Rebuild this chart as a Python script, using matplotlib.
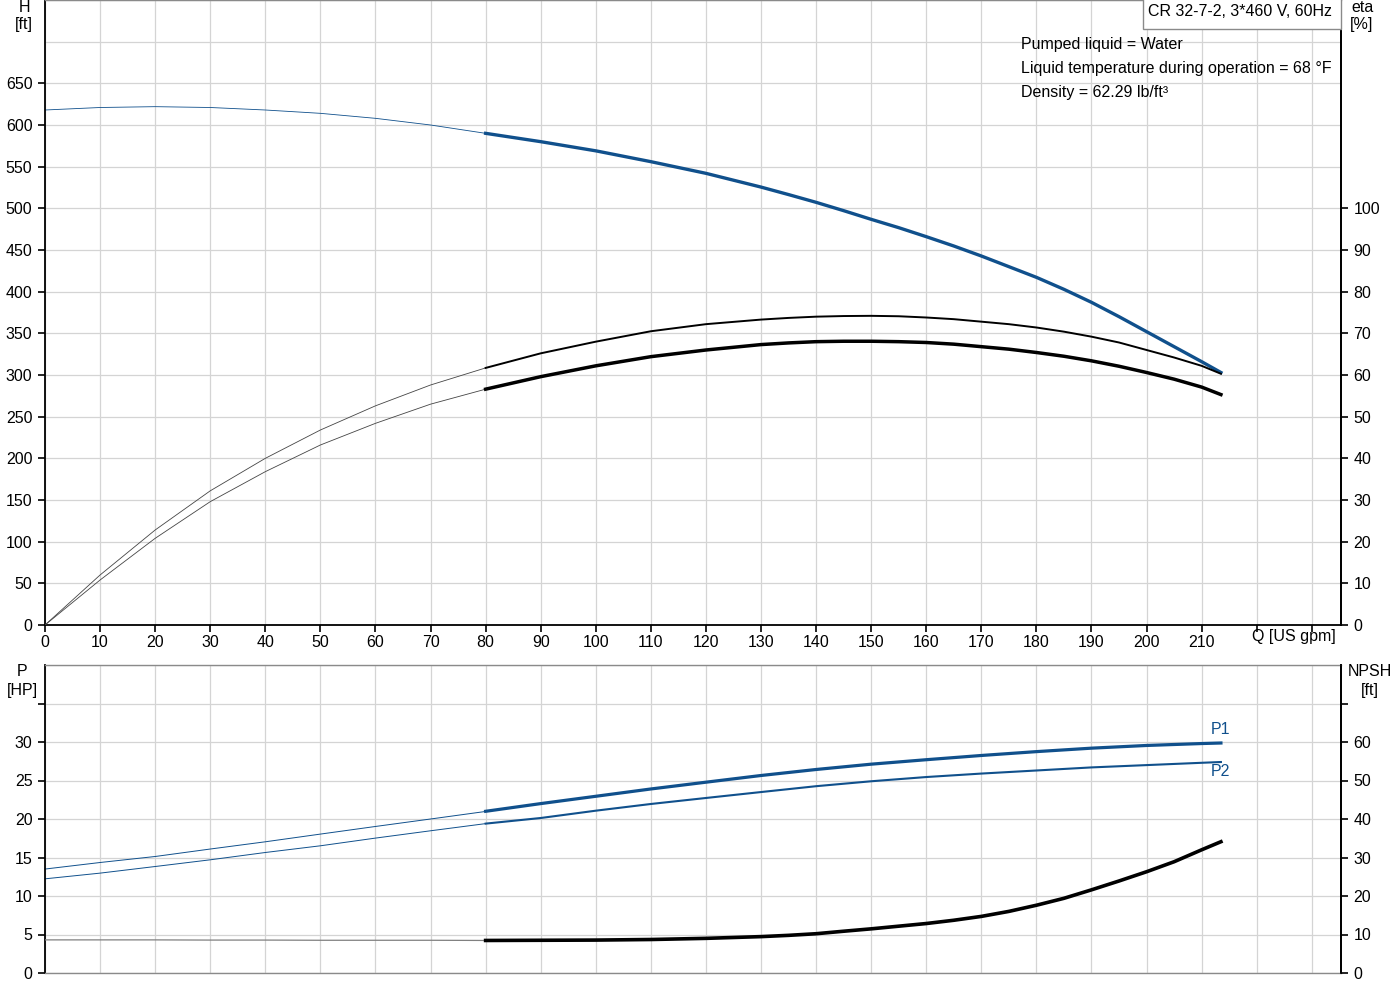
import matplotlib

matplotlib.use("Agg")
import matplotlib.pyplot as plt
from matplotlib.patches import Rectangle

plt.rcParams["font.family"] = ["Liberation Sans", "DejaVu Sans"]
plt.rcParams["font.size"] = 11.5

# flow points: thin part (outside duty range) and thick part (duty range)
Q_LO = [0, 10, 20, 30, 40, 50, 60, 70, 80]
Q_HI = [80, 90, 100, 110, 120, 130, 135, 140, 145, 150, 155, 160, 165, 170, 175,
        180, 185, 190, 195, 200, 205, 210, 213.5]
Q_PW = [80, 90, 100, 110, 120, 130, 140, 150, 160, 170, 180, 190, 200, 210, 213.5]

# head [ft]
H_LO = [618, 621, 622, 621, 618, 614, 608, 600, 590]
H_HI = [590, 580, 569, 556, 542, 525.5, 516.5, 507.2, 497.2, 486.8, 476.8, 466, 454.8,
        442.8, 430, 417.2, 402.8, 387.2, 370, 352, 334, 316, 303]

# efficiencies [%]
ETA1_LO = [0, 12.0, 22.8, 32.2, 40.0, 46.8, 52.6, 57.6, 61.7]
ETA1_HI = [61.7, 65.2, 68.0, 70.5, 72.2, 73.3, 73.7, 74.0, 74.15, 74.2, 74.1, 73.8, 73.4,
           72.8, 72.2, 71.4, 70.4, 69.2, 67.8, 66.0, 64.2, 62.2, 60.3]
ETA2_LO = [0, 10.8, 20.8, 29.6, 36.8, 43.2, 48.4, 53.0, 56.6]
ETA2_HI = [56.6, 59.6, 62.2, 64.4, 66.0, 67.3, 67.7, 68.0, 68.1, 68.1, 68.0, 67.8, 67.4,
           66.8, 66.2, 65.4, 64.5, 63.4, 62.1, 60.6, 59.0, 57.1, 55.3]

# power [HP]
P1_LO = [13.5, 14.35, 15.13, 16.1, 17.04, 18.04, 19.03, 20.0, 20.98]
P1_HI = [21.0, 22.0, 22.95, 23.9, 24.78, 25.65, 26.43, 27.12, 27.7, 28.25, 28.75, 29.2,
         29.55, 29.8, 29.87]
P2_LO = [12.23, 12.97, 13.83, 14.7, 15.65, 16.52, 17.52, 18.47, 19.4]
P2_HI = [19.4, 20.13, 21.08, 21.95, 22.73, 23.5, 24.26, 24.9, 25.45, 25.9, 26.3, 26.7,
         27.0, 27.3, 27.4]

# NPSH [ft]
NPSH_LO = [8.6, 8.6, 8.6, 8.55, 8.55, 8.5, 8.5, 8.5, 8.45]
NPSH_HI = [8.45, 8.5, 8.55, 8.7, 9.0, 9.45, 9.78, 10.2, 10.85, 11.47, 12.16, 12.85, 13.7,
           14.7, 16.0, 17.6, 19.4, 21.6, 23.9, 26.3, 28.9, 32.0, 34.1]

TITLE = "CR 32-7-2, 3*460 V, 60Hz"
INFO = [
    "Pumped liquid = Water",
    "Liquid temperature during operation = 68 \u00b0F",
    "Density = 62.29 lb/ft\u00b3",
]

BLUE = "#10508c"
GRID = "#d4d4d4"
W, H = 1400, 1000
XMAX = 235.3


def px(x0, y0, x1, y1):
    """Axes rect from a pixel box (top-left origin)."""
    return [x0 / W, 1 - y1 / H, (x1 - x0) / W, (y1 - y0) / H]


def style(ax, twin):
    for side in ("left", "right", "bottom"):
        ax.spines[side].set_color("black")
        ax.spines[side].set_linewidth(1.3)
    ax.spines["top"].set_color("#8a8a8a")
    ax.spines["top"].set_linewidth(1.0)
    for side in ("top", "left", "bottom"):
        twin.spines[side].set_visible(False)
    twin.spines["right"].set_color("black")
    twin.spines["right"].set_linewidth(1.3)
    ax.tick_params(axis="y", direction="out", length=5, width=1.2, pad=4)
    twin.tick_params(axis="y", direction="out", length=5, width=1.2, pad=4)
    ax.tick_params(which="minor", length=0)
    ax.grid(True, which="both", color=GRID, linewidth=0.9)
    ax.set_axisbelow(True)


fig = plt.figure(figsize=(14, 10), dpi=100)

# ---- top: head and efficiency ----
ax = fig.add_axes(px(45, 0, 1341, 625))
ax_eta = ax.twinx()
style(ax, ax_eta)
ax.set_xlim(0, XMAX)
ax.set_ylim(0, 750)
ax_eta.set_ylim(0, 150)
ax.set_xticks(range(0, 231, 10))
ax.set_xticklabels([str(v) if v <= 210 else "" for v in range(0, 231, 10)])
ax.tick_params(axis="x", direction="out", length=5, width=1.2, pad=2)
ax.set_yticks(range(0, 651, 50))
ax.set_yticks(range(0, 751, 50), minor=True)
ax_eta.set_yticks(range(0, 101, 10))
ax.text(219.2, -14, "Q [US gpm]", ha="left", va="center")

ax.plot(Q_LO, H_LO, color=BLUE, linewidth=0.6)
ax.plot(Q_HI, H_HI, color=BLUE, linewidth=2.4)
ax_eta.plot(Q_LO, ETA1_LO, color="#444444", linewidth=0.6)
ax_eta.plot(Q_HI, ETA1_HI, color="black", linewidth=1.4)
ax_eta.plot(Q_LO, ETA2_LO, color="#444444", linewidth=0.6)
ax_eta.plot(Q_HI, ETA2_HI, color="black", linewidth=2.5)

# ---- bottom: power and NPSH ----
ax_p = fig.add_axes(px(45, 665, 1341, 973))
ax_n = ax_p.twinx()
style(ax_p, ax_n)
ax_p.spines["bottom"].set_color("#8a8a8a")
ax_p.spines["bottom"].set_linewidth(1.0)
ax_p.set_xlim(0, XMAX)
ax_p.set_ylim(0, 40)
ax_n.set_ylim(0, 80)
ax_p.set_xticks(range(0, 231, 10))
ax_p.tick_params(axis="x", length=0, labelbottom=False)
ax_p.set_yticks(range(0, 36, 5))
ax_p.set_yticklabels([str(v) if v <= 30 else "" for v in range(0, 36, 5)])
ax_p.set_yticks(range(0, 41, 5), minor=True)
ax_n.set_yticks(range(0, 71, 10))
ax_n.set_yticklabels([str(v) if v <= 60 else "" for v in range(0, 71, 10)])

ax_p.plot(Q_LO, P1_LO, color=BLUE, linewidth=0.7)
ax_p.plot(Q_PW, P1_HI, color=BLUE, linewidth=2.3)
ax_p.plot(Q_LO, P2_LO, color=BLUE, linewidth=0.7)
ax_p.plot(Q_PW, P2_HI, color=BLUE, linewidth=1.5)
ax_n.plot(Q_LO, NPSH_LO, color="#808080", linewidth=0.9)
ax_n.plot(Q_HI, NPSH_HI, color="black", linewidth=2.6)
ax_p.annotate("P1", xy=(Q_PW[-1], P1_HI[-1]), xytext=(0, 10), textcoords="offset points",
              ha="center", va="center", color=BLUE)
ax_p.annotate("P2", xy=(Q_PW[-1], P2_HI[-1]), xytext=(0, -6.5), textcoords="offset points",
              ha="center", va="center", color=BLUE)


# ---- axis captions and info block ----
def ftext(x, y, s, ha="center"):
    fig.text(x / W, 1 - y / H, s, ha=ha, va="center")


ftext(24, 7, "H")
ftext(24, 25, "[ft]")
ftext(1362, 7, "eta")
ftext(1362, 25, "[%]")
ftext(22, 672, "P")
ftext(22, 690, "[HP]")
ftext(1370, 672, "NPSH")
ftext(1370, 690, "[ft]")

fig.patches.append(Rectangle((1143 / W, 1 - 29 / H), 198 / W, 40 / H, transform=fig.transFigure,
                             facecolor="white", edgecolor="#8a8a8a", linewidth=1.0, zorder=5))
fig.text(1148 / W, 1 - 12 / H, TITLE, ha="left", va="center", zorder=6)
for i, line in enumerate(INFO):
    ftext(1021, 44 + 24 * i, line, ha="left")

fig.savefig("out.png", dpi=100)
plt.close(fig)
